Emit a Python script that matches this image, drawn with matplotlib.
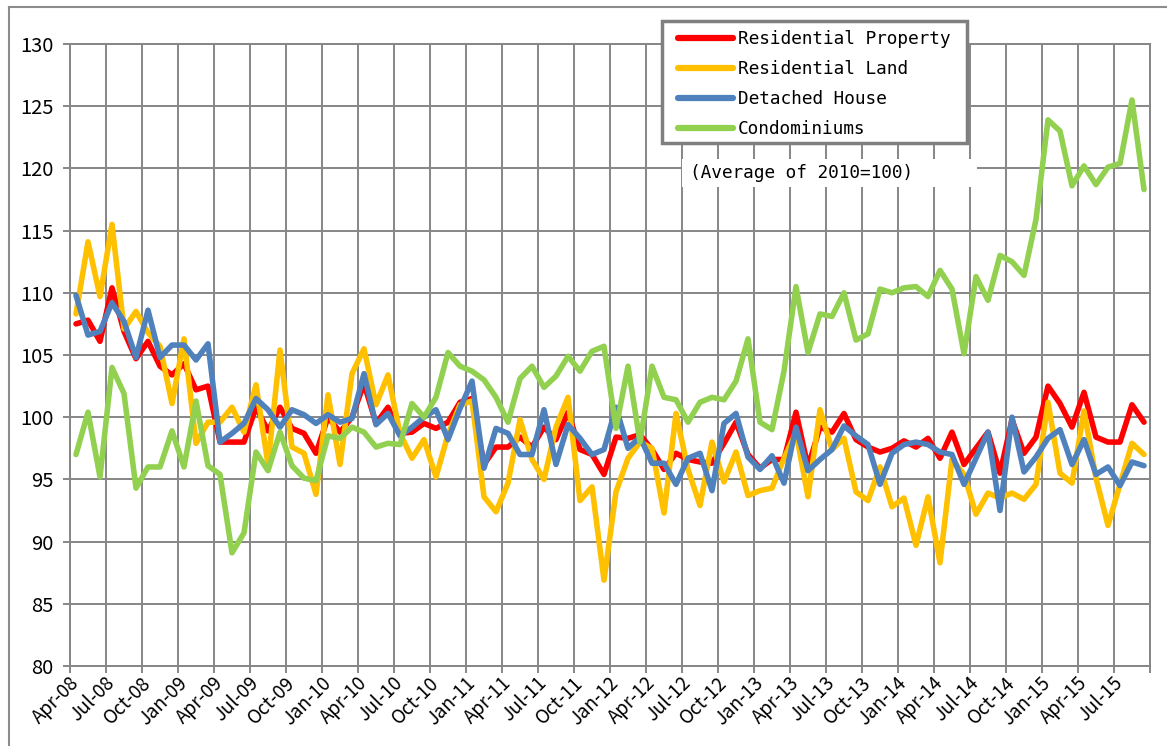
import matplotlib
matplotlib.use('Agg')
import matplotlib.pyplot as plt
from matplotlib.lines import Line2D
from matplotlib.patches import Rectangle
import numpy as np

plt.rcParams['font.family'] = ['Noto Sans CJK JP', 'DejaVu Sans']

# monthly index, Apr-08 .. Sep-15 (average of 2010 = 100)
tick_labels = ['Apr-08', 'Jul-08', 'Oct-08', 'Jan-09', 'Apr-09', 'Jul-09', 'Oct-09', 'Jan-10',
               'Apr-10', 'Jul-10', 'Oct-10', 'Jan-11', 'Apr-11', 'Jul-11', 'Oct-11', 'Jan-12',
               'Apr-12', 'Jul-12', 'Oct-12', 'Jan-13', 'Apr-13', 'Jul-13', 'Oct-13', 'Jan-14',
               'Apr-14', 'Jul-14', 'Oct-14', 'Jan-15', 'Apr-15', 'Jul-15']

res_property = [107.5, 107.8, 106.1, 110.4, 106.9, 104.7, 106.1, 104.1, 103.4, 104.3,
                102.2, 102.5, 98.0, 98.0, 98.0, 100.8, 98.9, 100.8, 99.1, 98.7,
                97.1, 100.0, 98.8, 100.0, 102.7, 99.5, 100.8, 98.7, 98.8, 99.5,
                99.1, 99.6, 101.2, 101.5, 96.2, 97.6, 97.6, 98.4, 97.6, 99.2,
                98.2, 100.4, 97.4, 97.0, 95.4, 98.4, 98.3, 98.6, 97.4, 95.8,
                97.1, 96.6, 96.4, 96.3, 97.9, 99.6, 97.0, 95.9, 96.6, 96.6,
                100.4, 96.0, 99.2, 98.8, 100.3, 98.2, 97.6, 97.2, 97.5, 98.1,
                97.6, 98.3, 96.7, 98.8, 96.2, 97.5, 98.8, 95.5, 99.8, 97.1,
                98.4, 102.5, 101.1, 99.2, 102.0, 98.4, 98.0, 98.0, 101.0, 99.6]

res_land = [108.3, 114.1, 109.7, 115.5, 107.1, 108.5, 106.8, 105.7, 101.1, 106.3,
            97.9, 99.6, 99.6, 100.8, 98.8, 102.6, 96.2, 105.4, 97.6, 97.1,
            93.8, 101.8, 96.2, 103.5, 105.5, 101.0, 103.4, 98.7, 96.7, 98.2,
            95.2, 98.6, 101.0, 101.3, 93.6, 92.4, 94.7, 99.8, 96.6, 95.0,
            99.2, 101.6, 93.3, 94.4, 86.9, 94.0, 96.7, 98.0, 97.5, 92.3,
            100.3, 95.8, 92.9, 98.0, 94.8, 97.2, 93.7, 94.1, 94.3, 96.7,
            98.8, 93.6, 100.6, 97.4, 98.3, 94.0, 93.3, 96.0, 92.8, 93.5,
            89.7, 93.6, 88.3, 96.6, 95.4, 92.2, 93.9, 93.5, 93.9, 93.4,
            94.6, 101.2, 95.5, 94.7, 100.5, 95.1, 91.3, 94.6, 97.9, 97.0]

detached = [109.8, 106.6, 106.9, 109.2, 107.7, 104.8, 108.6, 104.8, 105.8, 105.8,
            104.6, 105.9, 98.0, 98.7, 99.5, 101.5, 100.6, 99.2, 100.6, 100.2,
            99.5, 100.2, 99.6, 99.9, 103.5, 99.4, 100.3, 98.5, 99.2, 100.0,
            100.6, 98.2, 100.7, 102.9, 95.9, 99.1, 98.7, 97.0, 97.0, 100.6,
            96.2, 99.4, 98.3, 97.0, 97.4, 100.8, 97.5, 98.4, 96.3, 96.3,
            94.6, 96.7, 97.1, 94.1, 99.5, 100.3, 96.8, 95.8, 96.9, 94.7,
            99.2, 95.7, 96.6, 97.4, 99.3, 98.5, 97.8, 94.6, 97.1, 97.8,
            98.0, 97.8, 97.2, 97.0, 94.6, 96.7, 98.8, 92.5, 100.0, 95.6,
            96.8, 98.3, 99.0, 96.2, 98.2, 95.4, 96.0, 94.5, 96.4, 96.1]

condos = [97.0, 100.4, 95.2, 104.0, 101.9, 94.3, 96.0, 96.0, 98.9, 96.0,
          101.3, 96.1, 95.4, 89.1, 90.7, 97.2, 95.7, 98.8, 96.1, 95.1,
          94.9, 98.5, 98.3, 99.2, 98.8, 97.6, 97.9, 97.8, 101.1, 100.0,
          101.6, 105.2, 104.1, 103.7, 103.0, 101.6, 99.6, 103.1, 104.1, 102.4,
          103.3, 104.9, 103.7, 105.3, 105.7, 99.1, 104.1, 98.0, 104.1, 101.6,
          101.4, 99.6, 101.2, 101.6, 101.4, 102.9, 106.3, 99.6, 99.0, 103.7,
          110.5, 105.2, 108.3, 108.1, 110.0, 106.2, 106.7, 110.3, 110.0, 110.4,
          110.5, 109.7, 111.8, 110.3, 105.1, 111.3, 109.4, 113.0, 112.5, 111.4,
          115.9, 123.9, 123.0, 118.6, 120.2, 118.7, 120.1, 120.4, 125.5, 118.3]

series = [('Residential Property', res_property, '#FF0000'),
          ('Residential Land', res_land, '#FFC000'),
          ('Detached House', detached, '#4F81BD'),
          ('Condominiums', condos, '#92D050')]

W, H = 1167, 746
grid_c = '#868686'
mono = 'DejaVu Sans Mono'

fig = plt.figure(figsize=(W / 100, H / 100), dpi=100)
ax = fig.add_axes([70 / W, (H - 666) / H, 1080 / W, 622 / H])

x = np.arange(len(res_property))
for name, vals, col in series:
    ax.plot(x, vals, color=col, lw=4, label=name,
            solid_joinstyle='round', solid_capstyle='round', zorder=2)

ax.set_xlim(-0.5, len(x) - 0.5)
ax.set_ylim(80, 130)
ax.set_yticks(range(80, 131, 5))
ax.set_xticks(np.arange(-0.5, len(x), 3))
ax.set_xticklabels([])
ax.set_xticks(np.arange(0, len(x), 3), minor=True)
ax.set_xticklabels(tick_labels, minor=True, fontsize=13.5)
for lbl in ax.get_xticklabels(minor=True):
    lbl.set_rotation(45)
    lbl.set_ha('right')
    lbl.set_va('center')
    lbl.set_rotation_mode('anchor')

ax.grid(True, which='major', color=grid_c, lw=1.4, zorder=0)
ax.set_axisbelow(True)
for s in ax.spines.values():
    s.set_color(grid_c)
    s.set_linewidth(1.4)
ax.tick_params(axis='y', length=5, width=1.4, color=grid_c, pad=7, labelsize=14.5)
ax.tick_params(axis='x', which='major', length=5, width=1.4, color=grid_c)
ax.tick_params(axis='x', which='minor', length=0, pad=10)

# legend: frame drawn separately so the padding can match
ax.add_artist(Rectangle((662 / W, 1 - 143 / H), 305 / W, 122 / H, transform=fig.transFigure,
                        facecolor='white', edgecolor='#7f7f7f', lw=2.5, clip_on=False, zorder=4))
leg = ax.legend(loc='upper left', bbox_to_anchor=(678 / W, 1 - 30 / H),
                bbox_transform=fig.transFigure, frameon=False, borderpad=0, borderaxespad=0,
                prop={'family': mono, 'size': 12.8}, handlelength=3.1, handletextpad=0.25,
                labelspacing=0.68)
for h in leg.legend_handles:
    h.set_linewidth(4.5)

ax.add_artist(Rectangle((682 / W, 1 - 187 / H), 295 / W, 28 / H, transform=fig.transFigure,
                        facecolor='white', edgecolor='none', clip_on=False, zorder=4))
ax.text(690 / W, 1 - 173 / H, '(Average of 2010=100)', transform=fig.transFigure,
        ha='left', va='center', family=mono, fontsize=12.8, zorder=6)

# chart area border
fig.add_artist(Line2D([9 / W, 9 / W], [0, 1 - 7 / H], color='#8c8c8c', lw=1.5))
fig.add_artist(Line2D([9 / W, 1], [1 - 7 / H, 1 - 7 / H], color='#8c8c8c', lw=1.5))

fig.savefig('out.png', dpi=100)
